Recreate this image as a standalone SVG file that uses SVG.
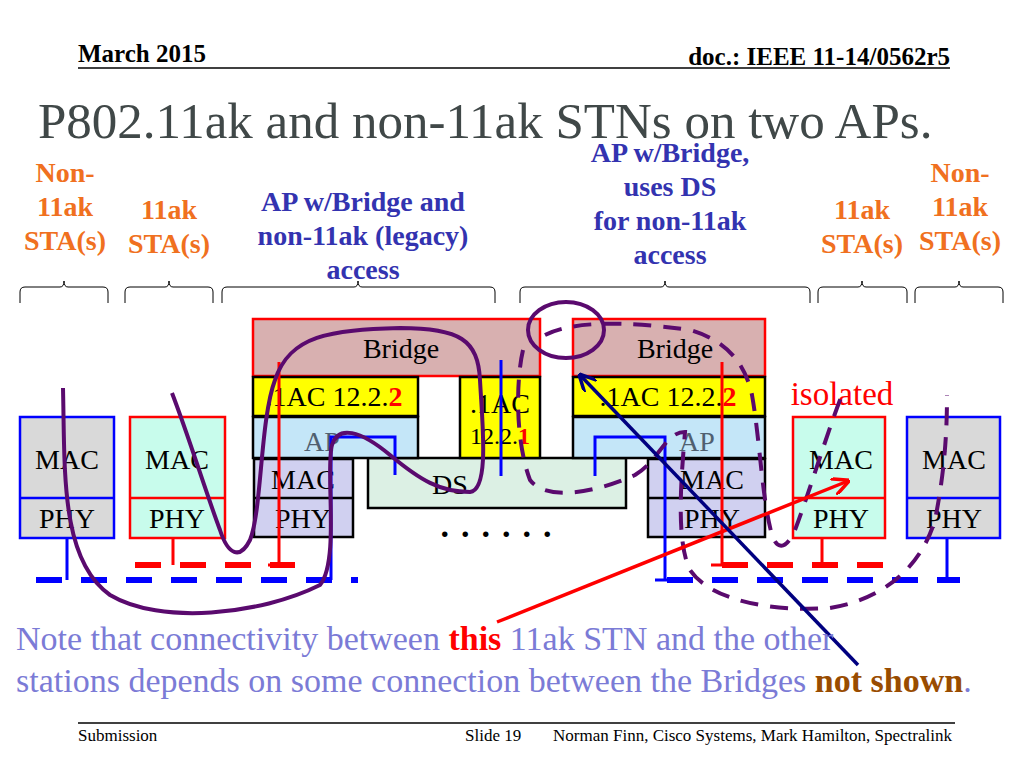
<svg xmlns="http://www.w3.org/2000/svg" width="1024" height="768" viewBox="0 0 1024 768" font-family="'Liberation Serif','Times New Roman',serif">
<style>
text{font-family:'Liberation Serif','Times New Roman',serif}
.b{font-weight:bold}
.t{font-size:28px;text-anchor:middle}
.or{fill:#f07020;font-weight:bold;font-size:28px;text-anchor:middle}
.bl{fill:#3333b0;font-weight:bold;font-size:28px;text-anchor:middle}
.brace{fill:none;stroke:#000;stroke-width:1}
.bk{stroke:#000;stroke-width:2.5}
.pu{fill:none;stroke:#5a0a6e;stroke-width:4}
.pud{fill:none;stroke:#5a0a6e;stroke-width:4;stroke-dasharray:18 12}
</style>
<defs>
<marker id="ar" viewBox="0 0 10 10" refX="9" refY="5" markerWidth="5" markerHeight="5" orient="auto"><path d="M0,0L10,5L0,10" fill="none" stroke="#f00" stroke-width="2"/></marker>
<marker id="ab" viewBox="0 0 10 10" refX="9" refY="5" markerWidth="5" markerHeight="5" orient="auto"><path d="M0,0L10,5L0,10" fill="none" stroke="#000080" stroke-width="2"/></marker>
</defs>
<rect width="1024" height="768" fill="#fff"/>
<text x="78" y="62" class="b" font-size="25">March 2015</text>
<text x="950" y="65" class="b" font-size="25" text-anchor="end">doc.: IEEE 11-14/0562r5</text>
<line x1="78" y1="68" x2="950" y2="68" stroke="#000" stroke-width="1.5"/>
<text x="38" y="138" font-size="51" fill="#404848">P802.11ak and non-11ak STNs on two APs.</text>
<text class="or"><tspan x="65" y="182">Non-</tspan><tspan x="65" y="216">11ak</tspan><tspan x="65" y="250">STA(s)</tspan></text>
<text class="or"><tspan x="169" y="219">11ak</tspan><tspan x="169" y="253">STA(s)</tspan></text>
<text class="bl"><tspan x="363" y="211">AP w/Bridge and</tspan><tspan x="363" y="245">non-11ak (legacy)</tspan><tspan x="363" y="279">access</tspan></text>
<text class="bl"><tspan x="670" y="162">AP w/Bridge,</tspan><tspan x="670" y="196">uses DS</tspan><tspan x="670" y="230">for non-11ak</tspan><tspan x="670" y="264">access</tspan></text>
<text class="or"><tspan x="862" y="219">11ak</tspan><tspan x="862" y="253">STA(s)</tspan></text>
<text class="or"><tspan x="960" y="182">Non-</tspan><tspan x="960" y="216">11ak</tspan><tspan x="960" y="250">STA(s)</tspan></text>
<g class="brace">
<path d="M20,303V292Q20,287 25,287H60Q64,287 64,281Q64,287 68,287H103Q108,287 108,292V303"/>
<path d="M125,303V292Q125,287 130,287H165Q169,287 169,281Q169,287 173,287H208Q213,287 213,292V303"/>
<path d="M222,303V292Q222,287 227,287H354Q358,287 358,281Q358,287 362,287H490Q495,287 495,292V303"/>
<path d="M520,303V292Q520,287 525,287H661Q665,287 665,281Q665,287 669,287H805Q810,287 810,292V303"/>
<path d="M818,303V292Q818,287 823,287H858Q862,287 862,281Q862,287 866,287H902Q907,287 907,292V303"/>
<path d="M915,303V292Q915,287 920,287H955Q959,287 959,281Q959,287 963,287H998Q1003,287 1003,292V303"/>
</g>
<g id="sta1"><rect x="20" y="417" width="94" height="121" fill="#d9d9d9" stroke="#00f" stroke-width="2.5"/><line x1="20" y1="498" x2="114" y2="498" stroke="#00f" stroke-width="2.5"/><text class="t" x="67" y="469">MAC</text><text class="t" x="67" y="528">PHY</text></g>
<g id="sta2"><rect x="130" y="417" width="95" height="121" fill="#c8fcec" stroke="#f00" stroke-width="2.5"/><line x1="130" y1="498" x2="225" y2="498" stroke="#f00" stroke-width="2.5"/><text class="t" x="177" y="469">MAC</text><text class="t" x="177" y="528">PHY</text></g>
<g id="sta3"><rect x="793" y="417" width="92" height="121" fill="#c8fcec" stroke="#f00" stroke-width="2.5"/><line x1="793" y1="498" x2="885" y2="498" stroke="#f00" stroke-width="2.5"/><text class="t" x="841" y="469">MAC</text><text class="t" x="841" y="528">PHY</text></g>
<g id="sta4"><rect x="907" y="417" width="93" height="121" fill="#d9d9d9" stroke="#00f" stroke-width="2.5"/><line x1="907" y1="498" x2="1000" y2="498" stroke="#00f" stroke-width="2.5"/><text class="t" x="954" y="469">MAC</text><text class="t" x="954" y="528">PHY</text></g>
<g id="ds"><rect x="368" y="458" width="258" height="50" fill="#dcf0e4" class="bk"/><text class="t" x="450" y="494" font-size="26">DS</text></g>
<g id="ap1">
<rect x="253" y="319" width="287" height="57" fill="#d8b0b0" stroke="#f00" stroke-width="2.5"/><text class="t" x="401" y="358">Bridge</text>
<rect x="253" y="377" width="165" height="39" fill="#ff0" class="bk"/><text class="t" x="334" y="406">.1AC 12.2.<tspan fill="#f00" font-weight="bold">2</tspan></text>
<rect x="253" y="417" width="165" height="41" fill="#c4e6f8" class="bk"/><text class="t" x="322" y="451" fill="#506070" font-size="33">AP</text>
<rect x="254" y="459" width="99" height="78" fill="#d0d0f0" class="bk"/><line x1="254" y1="498" x2="353" y2="498" class="bk"/><text class="t" x="303" y="489">MAC</text><text class="t" x="303" y="528">PHY</text>
</g>
<g id="ac1"><rect x="460" y="377" width="80" height="81" fill="#ff0" class="bk"/><text class="t" x="500" y="413">.1AC</text><text x="500" y="444" text-anchor="middle" font-size="24">12.2.<tspan fill="#f00" font-weight="bold">1</tspan></text></g>
<g id="ap2">
<rect x="573" y="319" width="192" height="57" fill="#d8b0b0" stroke="#f00" stroke-width="2.5"/><text class="t" x="675" y="358">Bridge</text>
<rect x="573" y="377" width="192" height="39" fill="#ff0" class="bk"/><text class="t" x="668" y="406">.1AC 12.2.<tspan fill="#f00" font-weight="bold">2</tspan></text>
<rect x="573" y="417" width="192" height="41" fill="#c4e6f8" class="bk"/><text class="t" x="697" y="451" fill="#506070" font-size="33">AP</text>
<rect x="648" y="459" width="117" height="78" fill="#d0d0f0" class="bk"/><line x1="648" y1="498" x2="765" y2="498" class="bk"/><text class="t" x="712" y="489">MAC</text><text class="t" x="712" y="528">PHY</text>
</g>
<text x="842" y="405" font-size="33" fill="#f00" text-anchor="middle">isolated</text>
<text x="502" y="537" font-size="34" font-weight="bold" text-anchor="middle" letter-spacing="12">......</text>
<g id="connectors">
<g stroke="#f00" stroke-width="3" fill="none">
<path d="M279,362V565M268,565H292M722,362V565M711,565H735M173,538V565M822,538V565"/>
<path d="M135,565H295M722,565H885" stroke-width="6" stroke-dasharray="26 19"/>
</g>
<g stroke="#00f" stroke-width="3" fill="none">
<path d="M67,538V580M331,580V437H395V475M501,360V476M665,580V437H595V476M947,538V580M655,580H675M937,580H957"/>
<path d="M36,580H358M667,580H960" stroke-width="6" stroke-dasharray="26 19"/>
</g>
<path class="pu" d="M63,388C65,470 60,560 110,595C160,625 260,615 320,585C340,560 325,470 332,445C338,425 360,430 390,455C420,480 440,492 470,492C490,490 482,420 480,380C478,340 460,328 400,328C330,330 290,335 275,380C260,420 262,510 250,540C240,560 228,555 220,530C205,490 190,440 172,393"/>
<ellipse class="pu" cx="566" cy="330" rx="38" ry="28"/>
<path class="pud" d="M523,350C516,380 515,440 530,480C545,500 590,495 635,475C660,460 665,432 685,432C682,470 675,540 690,570C710,600 770,612 830,608C880,600 920,570 935,520C945,470 947,430 947,395"/>
<path class="pud" d="M545,335C570,322 620,320 690,330C725,340 745,362 752,395C760,440 762,500 772,535C777,550 786,550 795,530C810,490 828,430 842,395"/>
<line x1="497" y1="622" x2="848" y2="481" stroke="#f00" stroke-width="3.5" marker-end="url(#ar)"/>
<line x1="858" y1="665" x2="580" y2="375" stroke="#000080" stroke-width="3.5" marker-end="url(#ab)"/>
</g>
<text x="16" y="650" font-size="34" fill="#7b7bd6">Note that connectivity between <tspan fill="#f00" font-weight="bold">this</tspan> 11ak STN and the other</text>
<text x="16" y="692" font-size="34" fill="#7b7bd6">stations depends on some connection between the Bridges <tspan fill="#994c00" font-weight="bold">not shown</tspan>.</text>
<line x1="78" y1="723" x2="955" y2="723" stroke="#000" stroke-width="1.5"/>
<text x="78" y="741" font-size="17">Submission</text>
<text x="465" y="741" font-size="17">Slide 19</text>
<text x="553" y="741" font-size="17">Norman Finn, Cisco Systems, Mark Hamilton, Spectralink</text>
</svg>
